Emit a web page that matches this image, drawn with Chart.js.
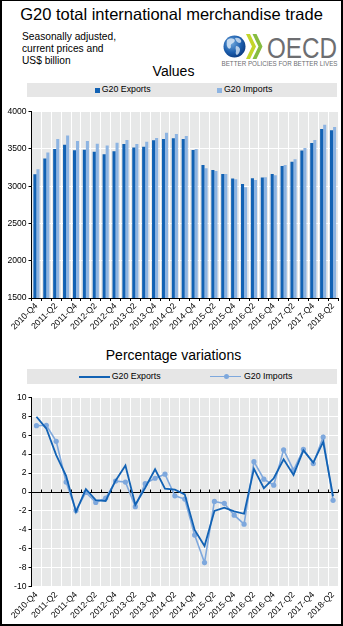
<!DOCTYPE html>
<html>
<head>
<meta charset="utf-8">
<script src="https://cdn.jsdelivr.net/npm/chart.js@4"></script>
<style>
  html, body { margin:0; padding:0; background:#fff; }
  body { width:343px; height:626px; position:relative; overflow:hidden; font-family:"Liberation Sans", Arial, sans-serif; color:#000; }
  .abs { position:absolute; }
  .frame { left:0; top:0; width:343px; height:626px; box-sizing:border-box; border:2px solid #000; border-top-width:1px; pointer-events:none; z-index:10; }
  .title { left:0; width:343px; text-align:center; white-space:nowrap; }
  .legend { left:27px; width:310px; background:#e6e6e6; }
  .lt { font-size:8.8px; white-space:nowrap; }
</style>
</head>
<body>
<script>
// ---------- data ----------
const quarters = ["2010-Q4","2011-Q1","2011-Q2","2011-Q3","2011-Q4","2012-Q1","2012-Q2","2012-Q3","2012-Q4",
  "2013-Q1","2013-Q2","2013-Q3","2013-Q4","2014-Q1","2014-Q2","2014-Q3","2014-Q4","2015-Q1","2015-Q2","2015-Q3","2015-Q4",
  "2016-Q1","2016-Q2","2016-Q3","2016-Q4","2017-Q1","2017-Q2","2017-Q3","2017-Q4","2018-Q1","2018-Q2"];
const exportsValues = [3161,3371,3500,3558,3482,3491,3464,3429,3469,3567,3518,3531,3616,3632,3643,3634,3487,3286,3219,3165,3103,3031,3107,3116,3165,3272,3330,3478,3580,3768,3750];
const importsValues = [3228,3451,3634,3679,3607,3607,3571,3545,3585,3621,3567,3598,3647,3716,3701,3674,3500,3241,3205,3165,3094,2987,3085,3121,3147,3286,3362,3513,3621,3826,3795];
const exportsPct = [7.95,6.7,3.9,1.7,-2.1,0.3,-0.85,-0.95,1.2,2.8,-1.35,0.45,2.4,0.35,0.25,-0.25,-4.0,-5.7,-2.0,-1.65,-2.05,-2.3,2.45,0.4,1.45,3.45,1.8,4.4,3.1,5.3,-0.45];
const importsPct = [7.0,7.05,5.35,1.05,-1.95,-0.05,-1.1,-0.65,1.15,1.05,-1.55,0.88,1.45,1.88,-0.4,-0.75,-4.55,-7.45,-1.0,-1.2,-2.45,-3.4,3.2,1.35,0.72,4.45,2.3,4.5,3.0,5.8,-0.88];
const valueTicks = [1500,2000,2500,3000,3500,4000];
const pctTicks = [-10,-8,-6,-4,-2,0,2,4,6,8,10];
const seriesNames = ["G20 Exports","G20 Imports"];
</script>

<div class="abs frame"></div>
<div class="abs title" style="top:4px;height:20px;line-height:20px;font-size:16.5px;">G20 total international merchandise trade</div>
<div class="abs" style="left:22px;top:31px;font-size:10.2px;line-height:12.2px;">Seasonally adjusted,<br>current prices and<br>US$ billion</div>

<svg class="abs" style="left:215px;top:26px;" width="125" height="45" viewBox="0 0 125 45">
  <defs>
    <radialGradient id="gl" cx="0.38" cy="0.35" r="0.7">
      <stop offset="0" stop-color="#6fa7dc"/>
      <stop offset="0.6" stop-color="#1d5fae"/>
      <stop offset="1" stop-color="#0b3a80"/>
    </radialGradient>
  </defs>
  <circle cx="19.5" cy="20.5" r="11" fill="url(#gl)"/>
  <path d="M12 14 q3 -3 7 -1 q2 2 -1 4 q-3 1 -2 4 q-1 3 -3 1 q-2 -3 -1 -8z" fill="#d8e6f5" opacity="0.85"/>
  <path d="M20 12 q4 -1 6 2 q1 3 -2 3 q-3 -1 -4 -5z" fill="#d8e6f5" opacity="0.8"/>
  <path d="M21 20 q3 0 4 3 q0 4 -3 6 q-2 -1 -1 -4 q-1 -3 0 -5z" fill="#d8e6f5" opacity="0.8"/>
  <polygon points="31,8 35,8 41,20.5 35,33 31,33 37,20.5" fill="#c3d52b"/>
  <polygon points="37.5,8 41.5,8 47.5,20.5 41.5,33 37.5,33 43.5,20.5" fill="#86bc40"/>
  <text x="52" y="32" font-family="Liberation Sans, Arial" font-size="30" fill="#6d6e71" textLength="70" lengthAdjust="spacingAndGlyphs">OECD</text>
  <text x="6.5" y="40" font-family="Liberation Sans, Arial" font-size="7.2" fill="#6d6e71" textLength="116" lengthAdjust="spacingAndGlyphs">BETTER POLICIES FOR BETTER LIVES</text>
</svg>

<div class="abs title" style="top:63px;height:16px;line-height:16px;font-size:14px;left:2px;">Values</div>
<div class="abs legend" style="top:83px;height:13.5px;">
  <div class="abs" style="left:67.5px;top:4.5px;width:5px;height:5px;background:#1262b4;"></div>
  <div class="abs lt" style="left:74.7px;top:0;line-height:13.5px;" id="lb1"></div>
  <div class="abs" style="left:190px;top:4.5px;width:5px;height:5px;background:#8db4e2;"></div>
  <div class="abs lt" style="left:197px;top:0;line-height:13.5px;" id="lb2"></div>
</div>

<div class="abs" style="left:0;top:100px;width:343px;height:240px;"><canvas id="c1"></canvas></div>

<div class="abs title" style="top:347px;height:17px;line-height:17px;font-size:14px;left:2px;">Percentage variations</div>
<div class="abs legend" style="top:368.5px;height:15.5px;">
  <div class="abs" style="left:51.5px;top:7.2px;width:31px;height:2px;background:#1262b4;"></div>
  <div class="abs lt" style="left:84.7px;top:0;line-height:15.5px;" id="ll1"></div>
  <div class="abs" style="left:183px;top:7.2px;width:31px;height:1.6px;background:#7ea8dd;"></div>
  <div class="abs" style="left:197px;top:5.5px;width:5px;height:5px;border-radius:50%;background:#7ea8dd;"></div>
  <div class="abs lt" style="left:217px;top:0;line-height:15.5px;" id="ll2"></div>
</div>

<div class="abs" style="left:0;top:388px;width:343px;height:238px;"><canvas id="c2"></canvas></div>

<script>
document.getElementById('lb1').textContent = seriesNames[0];
document.getElementById('lb2').textContent = seriesNames[1];
document.getElementById('ll1').textContent = seriesNames[0];
document.getElementById('ll2').textContent = seriesNames[1];

const FONT = "'Liberation Sans', Arial, sans-serif";
const EXP = '#1262b4', IMP = '#8db4e2', IMPL = '#7ea8dd', BG = '#e7e8e8';

const bgPlugin = {
  id: 'bgfill',
  beforeDraw(chart) {
    const { ctx, chartArea: a } = chart;
    ctx.save();
    ctx.fillStyle = BG;
    ctx.fillRect(a.left, a.top, a.right - a.left, a.bottom - a.top);
    ctx.restore();
  }
};

const zeroPlugin = {
  id: 'zeroline',
  beforeDatasetsDraw(chart) {
    const { ctx, chartArea: a, scales } = chart;
    const y0 = Math.round(scales.y.getPixelForValue(0)) + 0.5;
    const n = quarters.length;
    const cw = (a.right - a.left) / n;
    ctx.save();
    ctx.strokeStyle = '#000';
    ctx.lineWidth = 1;
    ctx.beginPath();
    ctx.moveTo(a.left, y0); ctx.lineTo(a.right, y0);
    for (let k = 1; k <= n; k++) {
      const x = Math.round(a.left + k * cw) + 0.5;
      ctx.moveTo(x, y0); ctx.lineTo(x, y0 - 3);
    }
    ctx.stroke();
    ctx.restore();
  }
};

function xTicks(v, i) { return i % 2 === 0 ? quarters[i] : ''; }

function yAxis(list, width) {
  return {
    min: list[0], max: list[list.length - 1],
    afterFit(s) { s.width = width; },
    afterBuildTicks(s) { s.ticks = list.map(v => ({ value: v })); },
    ticks: { color: '#000', font: { family: FONT, size: 8.6 }, padding: 2, callback: v => String(v) },
    grid: { color: '#ffffff', lineWidth: 1, tickColor: '#000', tickLength: 3, drawTicks: true },
    border: { display: true, color: '#000', width: 1 }
  };
}

new Chart(document.getElementById('c1'), {
  type: 'bar',
  data: {
    labels: quarters,
    datasets: [
      { label: seriesNames[0], data: exportsValues, backgroundColor: EXP, barPercentage: 1.0, categoryPercentage: 0.62 },
      { label: seriesNames[1], data: importsValues, backgroundColor: IMP, barPercentage: 1.0, categoryPercentage: 0.62 }
    ]
  },
  options: {
    responsive: true, maintainAspectRatio: false, animation: false, devicePixelRatio: 1,
    layout: { padding: { top: 11.7, right: 5, left: 0, bottom: 0 } },
    plugins: { legend: { display: false }, tooltip: { enabled: false } },
    scales: {
      x: {
        afterFit(s) { s.height = 42; },
        offset: true,
        ticks: { autoSkip: false, maxRotation: 45, minRotation: 45, color: '#000', font: { family: FONT, size: 8.6 }, padding: 0, callback: xTicks },
        grid: { offset: true, color: '#ffffff', lineWidth: 1, tickColor: '#000', tickLength: 3 },
        border: { display: true, color: '#000', width: 1 }
      },
      y: yAxis(valueTicks, 31.5)
    }
  },
  plugins: [bgPlugin]
});

new Chart(document.getElementById('c2'), {
  type: 'line',
  data: {
    labels: quarters,
    datasets: [
      { label: seriesNames[1], data: importsPct, borderColor: IMPL, backgroundColor: IMPL, borderWidth: 1.6,
        pointRadius: 2.6, pointBackgroundColor: IMPL, pointBorderWidth: 0, tension: 0, order: 2 },
      { label: seriesNames[0], data: exportsPct, borderColor: EXP, backgroundColor: EXP, borderWidth: 1.8,
        pointRadius: 0, tension: 0, order: 1 }
    ]
  },
  options: {
    responsive: true, maintainAspectRatio: false, animation: false, devicePixelRatio: 1,
    layout: { padding: { top: 9.3, right: 5, left: 0, bottom: 0 } },
    plugins: { legend: { display: false }, tooltip: { enabled: false } },
    scales: {
      x: {
        afterFit(s) { s.height = 39.3; },
        offset: true,
        ticks: { autoSkip: false, maxRotation: 45, minRotation: 45, color: '#000', font: { family: FONT, size: 8.6 }, padding: 0, callback: xTicks },
        grid: { offset: true, color: '#ffffff', lineWidth: 1, tickColor: 'rgba(0,0,0,0)', tickLength: 3 },
        border: { display: false }
      },
      y: yAxis(pctTicks, 31.5)
    }
  },
  plugins: [bgPlugin, zeroPlugin]
});
</script>
</body>
</html>
